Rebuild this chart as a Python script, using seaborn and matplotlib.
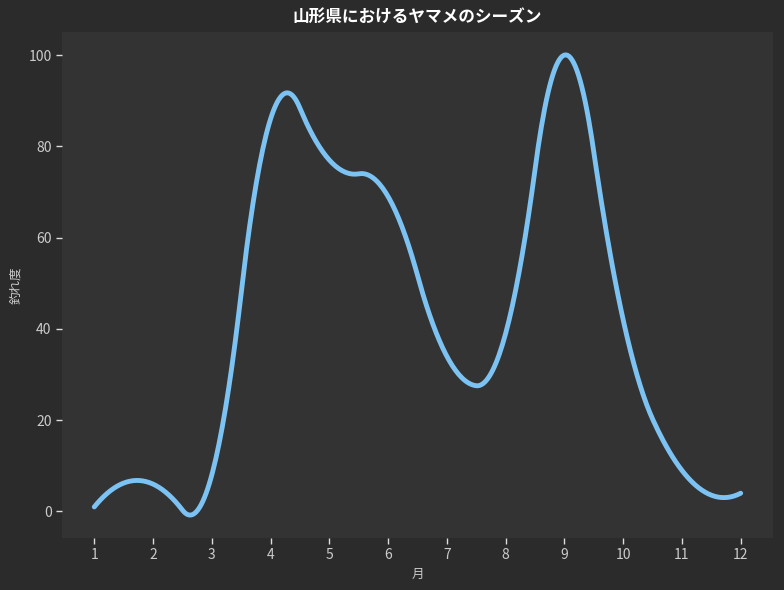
import numpy as np
import pandas as pd
import matplotlib
matplotlib.use("Agg")
import matplotlib.pyplot as plt
import seaborn as sns

months = [1, 2, 3, 4, 5, 6, 7, 8, 9, 10, 11, 12]
catch_rate = [1, 6, 8, 86, 77, 69, 34, 39, 100, 42, 9, 4]

title = "山形県におけるヤマメのシーズン"
xlabel = "月"
ylabel = "釣れ度"


def bspline_basis(t, k, xs):
    xs = np.asarray(xs, float)
    m = len(t) - 1
    B = np.zeros((len(xs), m))
    last = max(i for i in range(m) if t[i] < t[i + 1])
    for i in range(m):
        if t[i] < t[i + 1]:
            B[:, i] = ((xs >= t[i]) & (xs < t[i + 1])).astype(float)
    B[xs >= t[-1], last] = 1.0
    for d in range(1, k + 1):
        Bn = np.zeros((len(xs), m - d))
        for i in range(m - d):
            val = np.zeros(len(xs))
            den1 = t[i + d] - t[i]
            if den1 > 0:
                val += (xs - t[i]) / den1 * B[:, i]
            den2 = t[i + d + 1] - t[i + 1]
            if den2 > 0:
                val += (t[i + d + 1] - xs) / den2 * B[:, i + 1]
            Bn[:, i] = val
        B = Bn
    return B


def quad_interp_spline(x, y, num=400):
    # quadratic interpolating spline (knots at interior midpoints)
    x = np.asarray(x, float)
    y = np.asarray(y, float)
    k = 2
    mid = (x[1:] + x[:-1]) / 2.0
    t = np.r_[(x[0],) * (k + 1), mid[1:-1], (x[-1],) * (k + 1)]
    A = bspline_basis(t, k, x)
    c = np.linalg.solve(A, y)
    xs = np.linspace(x[0], x[-1], num)
    return xs, bspline_basis(t, k, xs) @ c


xs, ys = quad_interp_spline(months, catch_rate)
df = pd.DataFrame({"月": xs, "釣れ度": ys})

sns.set_theme(style="dark")
plt.rcParams["font.family"] = ["Noto Sans CJK JP", "DejaVu Sans"]

fig, ax = plt.subplots(figsize=(7.84, 5.9), dpi=100)
fig.patch.set_facecolor("#2b2b2b")
ax.set_facecolor("#333333")

sns.lineplot(data=df, x="月", y="釣れ度", ax=ax, color="#7cc3f3", linewidth=3.5)

for s in ax.spines.values():
    s.set_visible(False)
ax.grid(False)
ax.set_xticks(months)
ax.set_yticks([0, 20, 40, 60, 80, 100])
ax.tick_params(axis="both", colors="#dddddd", labelcolor="#cccccc", labelsize=10,
               length=4, width=1, bottom=True, left=True)
ax.set_title(title, color="white", fontsize=12, fontweight="bold", pad=7)
ax.set_xlabel(xlabel, color="#cccccc", fontsize=9)
ax.set_ylabel(ylabel, color="#cccccc", fontsize=9)

fig.subplots_adjust(left=0.079, right=0.986, top=0.946, bottom=0.088)
fig.savefig("out.png", dpi=100, facecolor=fig.get_facecolor())
